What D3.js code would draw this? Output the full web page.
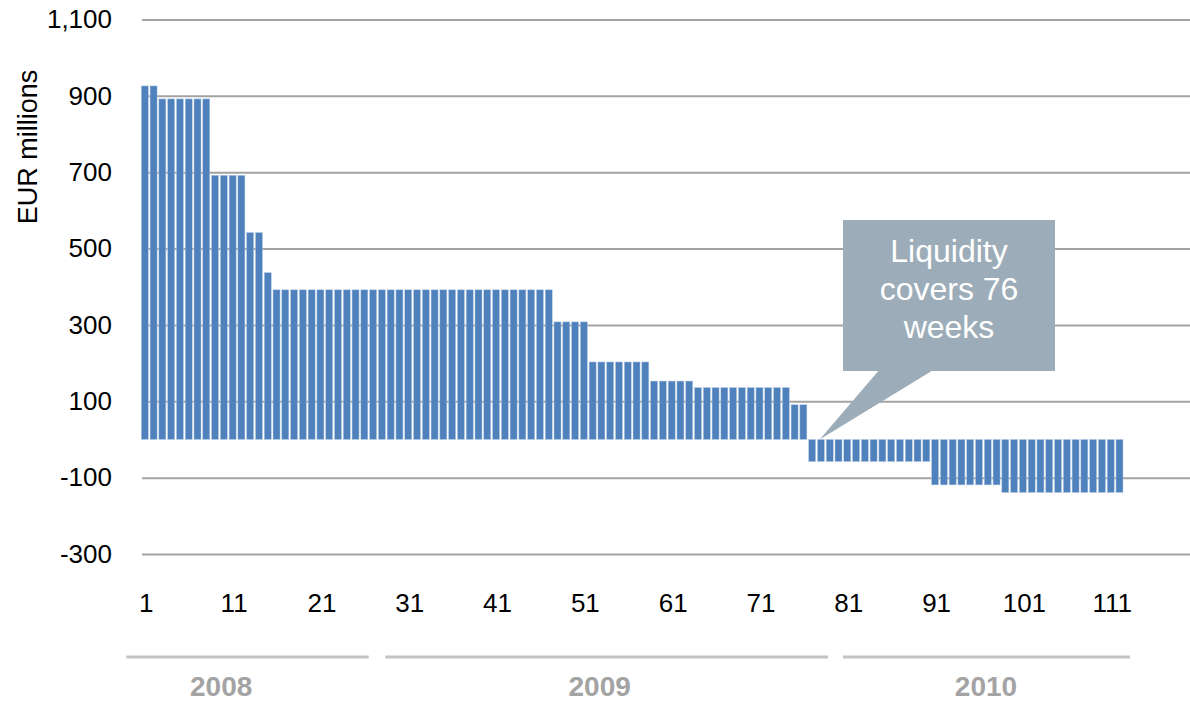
<!DOCTYPE html>
<html>
<head>
<meta charset="utf-8">
<script src="https://cdn.jsdelivr.net/npm/d3@7"></script>
<style>
  body { margin: 0; background: #fff; }
  svg { display: block; font-family: "Liberation Sans", Arial, sans-serif; }
</style>
</head>
<body>
<svg id="chart" width="1190" height="701"></svg>
<script>
// weekly liquidity surplus, EUR millions
const weeks = d3.range(1, 113);
const surplus = [
  926, 926,
  892, 892, 892, 892, 892, 892,
  692, 692, 692, 692,
  542, 542,
  437,
  392, 392, 392, 392, 392, 392, 392, 392, 392, 392, 392, 392, 392, 392, 392, 392,
  392, 392, 392, 392, 392, 392, 392, 392, 392, 392, 392, 392, 392, 392, 392, 392,
  308, 308, 308, 308,
  203, 203, 203, 203, 203, 203, 203,
  153, 153, 153, 153, 153,
  136, 136, 136, 136, 136, 136, 136, 136, 136, 136, 136,
  91, 91,
  -58, -58, -58, -58, -58, -58, -58, -58, -58, -58, -58, -58, -58, -58,
  -119, -119, -119, -119, -119, -119, -119, -119,
  -139, -139, -139, -139, -139, -139, -139, -139, -139, -139, -139, -139, -139, -139
];
const yTicks = [-300, -100, 100, 300, 500, 700, 900, 1100];
const xTickWeeks = [1, 11, 21, 31, 41, 51, 61, 71, 81, 91, 101, 111];

// year brackets under the axis (in week units, 0 = left edge of week 1)
const years = ["2008", "2009", "2010"];
const yearFrom = [-1.7, 27.8, 79.9];
const yearTo = [25.9, 78.2, 112.6];
const yearLabelAt = [9.1, 52.2, 96.2];

const coverWeeks = 76;
const calloutLines = ["Liquidity", "covers 76", "weeks"];

const svg = d3.select("#chart");
const W = 1190;

const x = d3.scaleBand()
  .domain(weeks)
  .range([141.3, 1123])
  .paddingInner(0.2)
  .paddingOuter(0);

const weekPos = d3.scaleLinear()
  .domain([0, weeks.length])
  .range([141.3, 141.3 + x.step() * weeks.length]);

const y = d3.scaleLinear()
  .domain([-300, 1100])
  .range([554, 19.5]);

const fmt = d3.format(",");

// grid + y labels
const yAxis = svg.append("g")
  .attr("transform", "translate(142,0)")
  .call(d3.axisLeft(y)
    .tickValues(yTicks)
    .tickSize(-(W - 142))
    .tickPadding(30)
    .tickFormat(d => fmt(d).replace("\u2212", "-")));
yAxis.select(".domain").remove();
yAxis.selectAll(".tick line")
  .attr("stroke", "#a3a3a3")
  .attr("stroke-width", 2);
yAxis.selectAll(".tick text")
  .attr("font-size", 26)
  .attr("fill", "#000")
  .style("font-family", "'Liberation Sans', Arial, sans-serif");

svg.append("text")
  .attr("transform", "translate(37,147) rotate(-90)")
  .attr("text-anchor", "middle")
  .attr("font-size", 27)
  .attr("fill", "#000")
  .text("EUR millions");

// bars
svg.append("g")
  .selectAll("rect")
  .data(weeks)
  .enter().append("rect")
  .attr("x", d => x(d))
  .attr("width", x.bandwidth())
  .attr("y", (d, i) => y(Math.max(0, surplus[i])))
  .attr("height", (d, i) => Math.abs(y(surplus[i]) - y(0)))
  .attr("fill", "#4f81bd")
  .attr("stroke", "#b8cce4")
  .attr("stroke-width", 0.5);

// x tick labels
svg.append("g")
  .selectAll("text")
  .data(xTickWeeks)
  .enter().append("text")
  .attr("x", d => x(d) + x.bandwidth() / 2 + 1.5)
  .attr("y", 612)
  .attr("text-anchor", "middle")
  .attr("font-size", 26)
  .attr("fill", "#000")
  .text(d => d);

// year brackets
const yr = svg.append("g");
yr.selectAll("line")
  .data(years)
  .enter().append("line")
  .attr("x1", (d, i) => weekPos(yearFrom[i]))
  .attr("x2", (d, i) => weekPos(yearTo[i]))
  .attr("y1", 657)
  .attr("y2", 657)
  .attr("stroke", "#c3c3c3")
  .attr("stroke-width", 3);
yr.selectAll("text")
  .data(years)
  .enter().append("text")
  .attr("x", (d, i) => weekPos(yearLabelAt[i]))
  .attr("y", 696)
  .attr("text-anchor", "middle")
  .attr("font-size", 28)
  .attr("font-weight", "bold")
  .attr("fill", "#a3a3a3")
  .text(d => d);

// callout
const tipX = weekPos(coverWeeks) + 11;
const tipY = y(0);
const bx0 = 843, bx1 = 1055, by0 = 220, by1 = 371;
svg.append("path")
  .attr("d", `M${bx0},${by0}H${bx1}V${by1}H931.7L${tipX},${tipY}L878.3,${by1}H${bx0}Z`)
  .attr("fill", "#9cadb9");
svg.append("g")
  .selectAll("text")
  .data(calloutLines)
  .enter().append("text")
  .attr("x", (bx0 + bx1) / 2)
  .attr("y", (d, i) => 261.5 + i * 38)
  .attr("text-anchor", "middle")
  .attr("font-size", 32)
  .attr("fill", "#fff")
  .text(d => d);
</script>
</body>
</html>
